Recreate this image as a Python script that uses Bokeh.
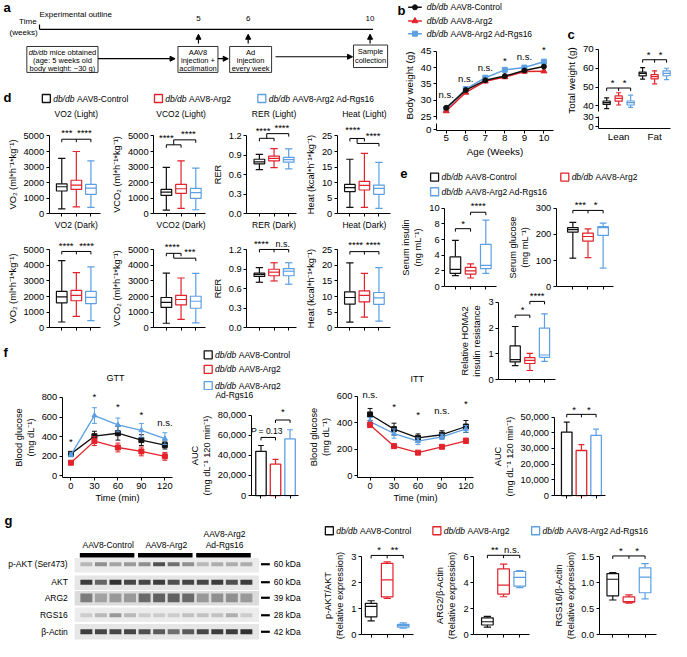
from bokeh.plotting import figure
from bokeh.layouts import row, column
from bokeh.models import (Range1d, LinearAxis, FixedTicker, NumeralTickFormatter,
                          Arrow, NormalHead, Spacer)
from bokeh.core.properties import value
from bokeh.embed import file_html
from bokeh.resources import INLINE

FONT = "Liberation Sans"
BLACK, RED, BLUE = "#111111", "#e3232b", "#5c9fe2"
COLORS = [BLACK, RED, BLUE]
S = 0.976


def R(v):
    return int(round(v * S))

# ======================= DATA =======================
strain = "db/db"
group_names = ["AAV8-Control", "AAV8-Arg2", "AAV8-Arg2 Ad-Rgs16"]

# a : experimental outline
timeline_weeks = ["5", "6", "10"]

# b : body weight
weeks = [5, 6, 7, 8, 9, 10]
bw_control = [27.7, 33.1, 36.1, 37.4, 39.1, 40.3]
bw_arg2 = [26.7, 32.4, 35.8, 37.1, 38.8, 38.9]
bw_rgs16 = [27.2, 33.4, 36.9, 39.3, 40.0, 41.8]
bw_sig = ["n.s.", "n.s.", "n.s.", "*", "n.s.", "*"]
bw_sig_y = [31.7, 36.8, 40.1, 42.1, 43.4, 45.4]

# c : body composition  (min, q1, median, q3, max)
comp_labels = ["Lean", "Fat"]
lean_boxes = [[38.6, 40.8, 41.7, 42.6, 44.3], [40.5, 42.5, 44.0, 45.3, 47.0], [39.2, 40.5, 41.7, 42.6, 45.7]]
fat_boxes = [[54.2, 55.9, 57.2, 57.9, 60.3], [51.7, 54.3, 55.5, 56.6, 58.6], [54.0, 56.0, 57.3, 58.6, 60.0]]

# d : metabolic cages
vo2_light = [[300, 1455, 1730, 1920, 3560], [440, 1560, 1835, 2150, 4000], [400, 1245, 1640, 1880, 3400]]
vco2_light = [[230, 1180, 1390, 1560, 2975], [335, 1310, 1600, 1880, 3400], [250, 980, 1350, 1630, 2930]]
rer_light = [[0.68, 0.77, 0.80, 0.84, 0.915], [0.71, 0.815, 0.855, 0.89, 1.005], [0.69, 0.795, 0.835, 0.87, 1.0]]
heat_light = [[2.0, 7.1, 8.4, 9.4, 17.5], [2.0, 7.6, 9.1, 10.4, 19.4], [1.7, 6.2, 8.1, 9.2, 16.5]]
vo2_dark = [[370, 1600, 1980, 2330, 4300], [730, 1730, 2080, 2400, 3540], [460, 1550, 1950, 2330, 3900]]
vco2_dark = [[290, 1310, 1630, 1940, 3500], [540, 1460, 1810, 2080, 3190], [310, 1250, 1700, 2020, 3480]]
rer_dark = [[0.70, 0.79, 0.82, 0.84, 0.925], [0.72, 0.80, 0.855, 0.90, 1.0], [0.67, 0.80, 0.87, 0.91, 1.0]]
heat_dark = [[1.8, 7.6, 9.7, 11.5, 20.8], [3.4, 8.3, 10.4, 11.8, 17.4], [2.1, 7.5, 9.6, 11.3, 19.3]]

# e : serum
insulin_boxes = [[1.4, 1.7, 2.2, 3.8, 5.9], [1.1, 1.6, 2.0, 2.45, 2.9], [1.7, 2.3, 2.7, 5.4, 8.5]]
glucose_boxes = [[109, 209, 218, 226, 246], [111, 174, 192, 205, 221], [71, 196, 226, 230, 243]]
homa_boxes = [[0.55, 0.69, 0.78, 1.31, 2.06], [0.36, 0.63, 0.75, 0.86, 1.02], [0.71, 0.87, 0.96, 2.0, 2.55]]

# f : GTT / ITT
time_min = [0, 30, 60, 90, 120]
gtt_control = [225, 405, 435, 365, 315]
gtt_control_err = [15, 50, 70, 55, 40]
gtt_arg2 = [135, 355, 290, 250, 200]
gtt_arg2_err = [15, 45, 45, 45, 40]
gtt_rgs16 = [215, 615, 520, 465, 380]
gtt_rgs16_err = [20, 80, 70, 70, 60]
gtt_sig = ["*", "*", "*", "*", "n.s."]
gtt_sig_y = [350, 810, 710, 630, 545]
auc_gtt = [44000, 31200, 56300]
auc_gtt_err = [5800, 4900, 9100]
itt_control = [464, 353, 287, 311, 373]
itt_control_err = [45, 45, 30, 30, 45]
itt_arg2 = [385, 225, 176, 220, 265]
itt_arg2_err = [20, 15, 10, 10, 20]
itt_rgs16 = [410, 320, 262, 295, 355]
itt_rgs16_err = [30, 35, 25, 20, 25]
itt_sig = ["n.s.", "*", "*", "n.s.", "*"]
itt_sig_y = [612, 521, 464, 496, 546]
auc_itt = [40400, 28700, 38300]
auc_itt_err = [6300, 3800, 4000]

# g : western blot and quantification
blot_rows = ["p-AKT (Ser473)", "AKT", "ARG2", "RGS16", "\u03b2-Actin"]
blot_kda = ["60 kDa", "60 kDa", "39 kDa", "28 kDa", "42 kDa"]
blot_lanes = list(range(1, 13))
blot_groups = ["AAV8-Control", "AAV8-Arg2", "AAV8-Arg2|Ad-Rgs16"]
band_pakt = [0.25, 0.45, 0.35, 0.4, 0.45, 0.75, 0.6, 0.45, 0.25, 0.3, 0.3, 0.3]
band_akt = [0.85, 0.65, 0.9, 0.8, 0.8, 0.85, 0.75, 0.8, 0.8, 0.85, 0.75, 0.85]
band_arg2 = [0.5, 0.3, 0.35, 0.35, 0.6, 0.65, 0.65, 0.6, 0.35, 0.4, 0.4, 0.35]
band_rgs16 = [0.15, 0.25, 0.4, 0.25, 0.15, 0.15, 0.15, 0.2, 0.2, 0.2, 0.3, 0.15]
band_actin = [0.85, 0.8, 0.8, 0.8, 0.75, 0.7, 0.6, 0.7, 0.8, 0.85, 0.85, 0.9]
pakt_boxes = [[0.53, 0.69, 1.09, 1.21, 1.31], [1.40, 1.46, 2.12, 2.75, 2.81], [0.25, 0.29, 0.35, 0.40, 0.46]]
arg2_boxes = [[0.58, 0.75, 1.0, 1.3, 1.42], [2.93, 3.13, 3.83, 5.08, 5.45], [3.63, 3.75, 4.43, 4.88, 4.95]]
rgs16_boxes = [[0.67, 0.75, 1.07, 1.18, 1.2], [0.61, 0.63, 0.64, 0.73, 0.77], [0.69, 0.81, 1.11, 1.29, 1.37]]

# ======================= HELPERS =======================

def canvas(x0, x1, y0, y1, xmap=None, ymap=None):
    if xmap is None:
        def fx(q):
            return q
    else:
        (ua, qa), (ub, qb) = xmap
        kx = (ub - ua) / (qb - qa)

        def fx(q, ua=ua, qa=qa, kx=kx):
            return ua + (q - qa) * kx
    if ymap is None:
        def fy(q):
            return q
    else:
        (va, pa_), (vb, pb_) = ymap
        ky = (vb - va) / (pb_ - pa_)

        def fy(q, va=va, pa_=pa_, ky=ky):
            return va + (q - pa_) * ky
    p = figure(width=R(x1) - R(x0), height=R(y1) - R(y0),
               x_range=Range1d(fx(x0), fx(x1)), y_range=Range1d(fy(y1), fy(y0)),
               x_axis_type=None, y_axis_type=None, toolbar_location=None,
               output_backend="svg", min_border=0, title=None)
    p.outline_line_color = None
    p.background_fill_color = "white"
    p.border_fill_color = "white"
    return p, fx, fy


def txt(p, xs, ys, texts, size=8.5, align="center", baseline="middle", style="normal", color="black"):
    p.text(x=list(xs), y=list(ys), text=list(texts), text_font=value(FONT),
           text_font_size=f"{size}px", text_align=align, text_baseline=baseline,
           text_font_style=style, text_color=color)


def segs(p, x0, y0, x1, y1, color="black", lw=1.0):
    p.segment(x0=list(x0), y0=list(y0), x1=list(x1), y1=list(y1), line_color=color, line_width=lw)


def style_axis(ax, fs):
    ax.axis_line_color = "black"
    ax.axis_line_width = 1
    ax.major_tick_line_color = "black"
    ax.major_tick_line_width = 1
    ax.major_tick_out = 3
    ax.major_tick_in = 0
    ax.minor_tick_line_color = None
    ax.major_label_text_font = FONT
    ax.major_label_text_font_size = f"{fs}px"
    ax.major_label_text_color = "black"
    ax.major_label_standoff = 2
    ax.axis_label_text_font = FONT
    ax.axis_label_text_font_size = f"{fs}px"
    ax.axis_label_text_font_style = "normal"
    ax.axis_label_text_color = "black"
    ax.axis_label_standoff = 3


def yaxis(p, at, lo, hi, ticks, label=None, fmt=None, overrides=None, fs=9.3):
    ax = LinearAxis(fixed_location=at, bounds=(lo, hi), ticker=FixedTicker(ticks=list(ticks)))
    style_axis(ax, fs)
    if fmt:
        ax.formatter = NumeralTickFormatter(format=fmt)
    if overrides:
        ax.major_label_overrides = overrides
    if label:
        ax.axis_label = label
    p.add_layout(ax, "left")
    return ax


def xaxis(p, at, lo, hi, ticks, label=None, overrides=None, fs=9.3, tick_out=3):
    ax = LinearAxis(fixed_location=at, bounds=(lo, hi), ticker=FixedTicker(ticks=list(ticks)))
    style_axis(ax, fs)
    ax.major_tick_out = tick_out
    if overrides:
        ax.major_label_overrides = overrides
    if label:
        ax.axis_label = label
        ax.axis_label_standoff = 1
    p.add_layout(ax, "below")
    return ax


BLANK3 = {1: "", 2: "", 3: ""}


def boxes(p, xs, stats, colors, w, capw, lw=1.2):
    lo = [s[0] for s in stats]
    q1 = [s[1] for s in stats]
    md = [s[2] for s in stats]
    q3 = [s[3] for s in stats]
    hi = [s[4] for s in stats]
    xl = [x - w / 2 for x in xs]
    xr = [x + w / 2 for x in xs]
    cl = [x - capw / 2 for x in xs]
    cr = [x + capw / 2 for x in xs]
    p.segment(x0=xs, y0=q3, x1=xs, y1=hi, line_color=colors, line_width=lw)
    p.segment(x0=xs, y0=q1, x1=xs, y1=lo, line_color=colors, line_width=lw)
    p.segment(x0=cl, y0=hi, x1=cr, y1=hi, line_color=colors, line_width=lw)
    p.segment(x0=cl, y0=lo, x1=cr, y1=lo, line_color=colors, line_width=lw)
    p.quad(left=xl, right=xr, bottom=q1, top=q3, fill_color="white", line_color=colors, line_width=lw)
    p.segment(x0=xl, y0=md, x1=xr, y1=md, line_color=colors, line_width=lw)


def dval(fy, px):
    return abs(fy(0) - fy(px))


def bracket_combined(p, fy, xs, y, drop=3):
    d = dval(fy, drop)
    segs(p, [xs[0]], [y], [xs[-1]], [y])
    segs(p, xs, [y] * len(xs), xs, [y - d] * len(xs))


def bracket_pair(p, fy, xa, xb, y, left_end=None, drop=3):
    d = dval(fy, drop)
    segs(p, [xa], [y], [xb], [y])
    segs(p, [xa, xb], [y, y], [xa, xb],
         [left_end if left_end is not None else y - d, y - d])


def bracket_nested(p, fy, yA, yB):
    bracket_pair(p, fy, 1, 2, yA)
    bracket_pair(p, fy, 1.5, 3, yB, left_end=yA)


def legend_entry(p, fx, fy, xq, yq, color, rest, fs=8.5):
    p.scatter(x=[fx(xq)], y=[fy(yq)], marker="square", size=8, fill_color="white",
              line_color=color, line_width=1.3)
    tx = xq + 7
    txt(p, [fx(tx)], [fy(yq)], [strain], size=fs, align="left", style="italic")
    txt(p, [fx(tx + 2.8 * fs / S)], [fy(yq)], [rest], size=fs, align="left")


def errbars(p, fx, xs, ys, errs, color, cap_px=2.5, both=True, lw=1.0):
    half = abs(fx(cap_px) - fx(0))
    hi = [y + e for y, e in zip(ys, errs)]
    lo = [y - e for y, e in zip(ys, errs)] if both else list(ys)
    segs(p, xs, lo, xs, hi, color, lw)
    segs(p, [x - half for x in xs], hi, [x + half for x in xs], hi, color, lw)
    if both:
        segs(p, [x - half for x in xs], lo, [x + half for x in xs], lo, color, lw)

# ======================= PANEL a =======================
pa, fx, fy = canvas(0, 402, 0, 93)
txt(pa, [3], [7], ["a"], size=13, style="bold", align="left")
txt(pa, [40], [14.5], ["Experimental outline"], size=8, align="left")
txt(pa, [37, 38], [21.5, 33], ["Time", "(weeks)"], size=8, align="right")
segs(pa, [40, 40], [29.5, 24.5], [382, 40], [29.5, 29.5], lw=1.2)
week_px = [203, 254, 379]
txt(pa, week_px, [18] * 3, timeline_weeks, size=8)
for xw in week_px:
    pa.add_layout(Arrow(x_start=xw, y_start=44, x_end=xw, y_end=34.5, line_width=1.2,
                        end=NormalHead(size=5, fill_color="black", line_color="black")))
pa.quad(left=[27, 182, 235, 362], right=[100, 223, 278, 397], top=[47, 47, 47, 45.5],
        bottom=[73.5, 73.5, 73.5, 68.5], fill_color="white", line_color="#333333", line_width=1)
txt(pa, [28.9], [52.7], [strain], size=7.5, align="left", style="italic")
txt(pa, [50.3], [52.7], ["mice obtained"], size=7.5, align="left")
txt(pa, [63.5, 63.5], [61, 69.3], ["(age: 5 weeks old", "body weight: ~30 g)"], size=7.5)
txt(pa, [202.5] * 3, [52.7, 61, 69.3], ["AAV8", "injection +", "acclimation"], size=7.5)
txt(pa, [256.5] * 3, [52.7, 61, 69.3], ["Ad", "injection", "every week"], size=7.5)
txt(pa, [379.5] * 2, [52.2, 61.7], ["Sample", "collection"], size=7.5)
for (xs_, xe_, yy) in [(100, 179, 59.5), (223, 233.5, 59.5), (282, 361, 57.5)]:
    pa.add_layout(Arrow(x_start=xs_, y_start=yy, x_end=xe_, y_end=yy, line_width=1.2,
                        end=NormalHead(size=5, fill_color="black", line_color="black")))

# ======================= PANEL d =======================
dleg, fx, fy = canvas(0, 402, 93, 108)
txt(dleg, [3], [99], ["d"], size=13, style="bold", align="left")
for xq, c, name in zip([47, 162, 268], COLORS, group_names):
    legend_entry(dleg, fx, fy, xq, 100.5, c, name)

d_cols = [(0, 108, 50, 103), (108, 215, 157, 210), (215, 305, 252, 303), (305, 402, 345, 400)]
d_rows = {"Light": (108, 225, 139, 218, 117), "Dark": (225, 345, 255, 335, 230)}
d_measures = [
    ("VO2", 5000, [0, 1000, 2000, 3000, 4000, 5000], "VO\u2082 (ml*h\u207b\u00b9*kg\u207b\u00b9)", None),
    ("VCO2", 5000, [0, 1000, 2000, 3000, 4000, 5000], "VCO\u2082 (ml*h\u207b\u00b9*kg\u207b\u00b9)", None),
    ("RER", 1.2, [0, 0.3, 0.6, 0.9, 1.2], "RER", "0.0"),
    ("Heat", 25, [0, 5, 10, 15, 20, 25], "Heat (kcal*h\u207b\u00b9*kg\u207b\u00b9)", None),
]
d_data = {
    ("VO2", "Light"): vo2_light, ("VCO2", "Light"): vco2_light,
    ("RER", "Light"): rer_light, ("Heat", "Light"): heat_light,
    ("VO2", "Dark"): vo2_dark, ("VCO2", "Dark"): vco2_dark,
    ("RER", "Dark"): rer_dark, ("Heat", "Dark"): heat_dark,
}
d_sig = {
    ("VO2", "Light"): ("combined", [4790], ["***", "****"], [1.35, 2.55], [5250, 5250]),
    ("VCO2", "Light"): ("nested", [4430, 4750], ["****", "****"], [1.0, 2.5], [4890, 5170]),
    ("RER", "Light"): ("nested", [1.164, 1.236], ["****", "****"], [1.25, 2.53], [1.286, 1.337]),
    ("Heat", "Light"): ("nested", [24.2, 22.6], ["****", "****"], [1.2, 2.6], [27.0, 25.2]),
    ("VO2", "Dark"): ("combined", [4890], ["****", "****"], [1.3, 2.7], [5270, 5270]),
    ("VCO2", "Dark"): ("nested", [4770, 4460], ["****", "***"], [1.4, 2.6], [5230, 4870]),
    ("RER", "Dark"): ("combined", [1.2045], ["****", "n.s."], [1.13, 2.6], [1.29, 1.29]),
    ("Heat", "Dark"): ("combined", [24.4], ["****", "****"], [1.4, 2.6], [26.6, 26.6]),
}
d_figs = {"Light": [], "Dark": []}
for cond in ["Light", "Dark"]:
    y0, y1, ptop, pzero, ptitle = d_rows[cond]
    for (x0, x1, axx, right), (name, ymax, ticks, ylab, fmt) in zip(d_cols, d_measures):
        p, fx, fy = canvas(x0, x1, y0, y1, xmap=((1, axx + 13), (3, axx + 43)),
                           ymap=((ymax, ptop), (0, pzero)))
        yaxis(p, fx(axx), 0, ymax, ticks, label=ylab, fmt=fmt)
        xaxis(p, 0, fx(axx), fx(right), [1, 2, 3], overrides=BLANK3)
        txt(p, [2], [fy(ptitle)], [f"{name} ({cond})"], size=8.5)
        boxes(p, [1, 2, 3], d_data[(name, cond)], COLORS, 0.73, 0.5)
        kind, levels, labs, lxs, lys = d_sig[(name, cond)]
        if kind == "combined":
            bracket_combined(p, fy, [1, 2, 3], levels[0])
        else:
            bracket_nested(p, fy, levels[0], levels[1])
        for lab, lx, ly in zip(labs, lxs, lys):
            txt(p, [lx], [ly], [lab], size=9 if lab == "n.s." else 9.5)
        d_figs[cond].append(p)

# ======================= PANEL f header =======================
fhead, fx, fy = canvas(0, 402, 345, 400)
txt(fhead, [3], [361], ["f"], size=13, style="bold", align="left")
txt(fhead, [118], [387], ["GTT"], size=9)
legend_entry(fhead, fx, fy, 213, 363, BLACK, group_names[0])
legend_entry(fhead, fx, fy, 213, 378, RED, group_names[1])
legend_entry(fhead, fx, fy, 213, 395, BLUE, "AAV8-Arg2")

# ======================= PANEL b =======================
bleg, fx, fy = canvas(402, 575, 0, 40)
txt(bleg, [407], [10], ["b"], size=13, style="bold", align="left")
for yy, c, m, sz, name in zip([7, 21, 34], COLORS, ["circle", "triangle", "square"], [5, 6, 5], group_names):
    segs(bleg, [418], [yy], [432], [yy], c, 1.5)
    bleg.scatter([425], [yy], marker=m, size=sz, fill_color=c, line_color=c)
    txt(bleg, [437], [yy], [strain], size=8.5, align="left", style="italic")
    txt(bleg, [437 + 2.8 * 8.5 / S], [yy], [name], size=8.5, align="left")

bplot, fx, fy = canvas(402, 575, 40, 165, xmap=((5, 457), (10, 557)), ymap=((45, 52), (25, 119)))
bx = fx(447)
bbase = fy(133)
yaxis(bplot, bx, 24, 45, [25, 30, 35, 40, 45], label="Body weight (g)", fs=9.8)
yaxis(bplot, bx, bbase, 22.8, [21], overrides={21: "0"}, fs=9.8)
xaxis(bplot, bbase, bx, fx(567), weeks, label="Age (Weeks)", fs=9.8)
for ys, c, m, sz in [(bw_rgs16, BLUE, "square", 5), (bw_arg2, RED, "triangle", 6), (bw_control, BLACK, "circle", 5)]:
    bplot.line(weeks, ys, line_color=c, line_width=1.5)
    bplot.scatter(weeks, ys, marker=m, size=sz, fill_color=c, line_color=c)
txt(bplot, weeks, bw_sig_y, bw_sig, size=9.5)

# ======================= PANEL c =======================
chead, fx, fy = canvas(575, 687, 0, 45)
txt(chead, [581], [35], ["c"], size=13, style="bold", align="left")
cplot, fx, fy = canvas(575, 687, 45, 165, xmap=((1, 621), (6, 682)), ymap=((70, 50), (40, 108)))
cx = fx(613)
cbase = fy(131.5)
yaxis(cplot, cx, 37, 70, [40, 50, 60, 70], label="Total weight (g)", fs=9.8)
yaxis(cplot, cx, cbase, 34.6, [29, 34], overrides={29: "0", 34: "30"}, fs=9.8)
xaxis(cplot, cbase, cx, fx(686), [2, 5], overrides={2: comp_labels[0], 5: comp_labels[1]}, fs=9.8, tick_out=0)
boxes(cplot, [1, 2, 3], lean_boxes, COLORS, 0.6, 0.42)
boxes(cplot, [4, 5, 6], fat_boxes, COLORS, 0.6, 0.42)
bracket_combined(cplot, fy, [1, 2, 3], 49.5)
txt(cplot, [1.5, 2.5], [52.5, 52.5], ["*", "*"], size=9.5)
bracket_combined(cplot, fy, [4, 5, 6], 64.5)
txt(cplot, [4.5, 5.5], [67.5, 67.5], ["*", "*"], size=9.5)

# ======================= PANEL e =======================
eleg, fx, fy = canvas(402, 687, 165, 205)
txt(eleg, [410], [177], ["e"], size=13, style="bold", align="left")
legend_entry(eleg, fx, fy, 445, 181, BLACK, group_names[0])
legend_entry(eleg, fx, fy, 578, 181, RED, group_names[1])
legend_entry(eleg, fx, fy, 445, 196, BLUE, group_names[2])

eins, fx, fy = canvas(402, 515, 205, 298, xmap=((1, 466), (3, 497)), ymap=((10, 213), (0, 293)))
yaxis(eins, fx(455), 0, 10, [0, 2, 4, 6, 8, 10], label="Serum insulin\n(ng mL\u207b\u00b9)")
xaxis(eins, 0, fx(455), fx(508), [1, 2, 3], overrides=BLANK3)
boxes(eins, [1, 2, 3], insulin_boxes, COLORS, 0.7, 0.45)
bracket_pair(eins, fy, 1, 2, 7.4)
txt(eins, [1.5], [8.1], ["*"], size=9.5)
bracket_pair(eins, fy, 2, 3, 9.5)
txt(eins, [2.5], [10.35], ["****"], size=9.5)

eglu, fx, fy = canvas(515, 687, 205, 298, xmap=((1, 586), (3, 617)), ymap=((300, 213), (0, 293)))
yaxis(eglu, fx(569), 0, 300, [0, 100, 200, 300], label="Serum glucose\n(mg mL\u207b\u00b9)")
xaxis(eglu, 0, fx(569), fx(628), [1, 2, 3], overrides=BLANK3)
boxes(eglu, [1, 2, 3], glucose_boxes, COLORS, 0.7, 0.45)
bracket_combined(eglu, fy, [1, 2, 3], 292)
txt(eglu, [1.5, 2.5], [315, 315], ["***", "*"], size=9.5)

ittT, fx, fy = canvas(402, 470, 298, 400)
txt(ittT, [427], [388], ["ITT"], size=9)

ehoma, fx, fy = canvas(470, 600, 298, 400, xmap=((1, 527), (3, 557)), ymap=((3, 309), (0, 389)))
yaxis(ehoma, fx(510), 0, 3, [0, 1, 2, 3], label="Relative HOMA2\ninsulin resistance")
xaxis(ehoma, 0, fx(510), fx(568), [1, 2, 3], overrides=BLANK3)
boxes(ehoma, [1, 2, 3], homa_boxes, COLORS, 0.7, 0.45)
bracket_pair(ehoma, fy, 1, 2, 2.5)
txt(ehoma, [1.5], [2.72], ["*"], size=9.5)
bracket_pair(ehoma, fy, 2, 3, 3.03)
txt(ehoma, [2.5], [3.24], ["****"], size=9.5)

espacer = Spacer(width=R(687) - R(600), height=R(400) - R(298))

# ======================= PANEL f plots =======================
gtt, fx, fy = canvas(0, 185, 400, 515, xmap=((0, 72), (120, 168)), ymap=((800, 407), (0, 487)))
gx = fx(63)
gb = fy(489)
yaxis(gtt, gx, gb, 800, [0, 200, 400, 600, 800], label="Blood glucose\n(mg dL\u207b\u00b9)")
xaxis(gtt, gb, gx, fx(176), time_min, label="Time (min)")
for ys, es, c, m in [(gtt_control, gtt_control_err, BLACK, "square"), (gtt_arg2, gtt_arg2_err, RED, "square"),
                     (gtt_rgs16, gtt_rgs16_err, BLUE, "triangle")]:
    errbars(gtt, fx, time_min, ys, es, c)
    gtt.line(time_min, ys, line_color=c, line_width=1.3)
    gtt.scatter(time_min, ys, marker=m, size=5, fill_color=c, line_color=c)
txt(gtt, time_min, gtt_sig_y, gtt_sig, size=9.5)

aucg, fx, fy = canvas(185, 315, 400, 515, xmap=((1, 267), (3, 297)), ymap=((80000, 425), (0, 507)))
ax_ = fx(257)
yaxis(aucg, ax_, 0, 80000, [0, 20000, 40000, 60000, 80000], label="AUC\n(mg dL\u207b\u00b9 120 min\u207b\u00b9)", fmt="0,0")
xaxis(aucg, 0, ax_, fx(306), [1, 2, 3], overrides=BLANK3)
errbars(aucg, fx, [1, 2, 3], auc_gtt, auc_gtt_err, COLORS, cap_px=3, both=False, lw=1.2)
aucg.vbar(x=[1, 2, 3], top=auc_gtt, bottom=0, width=0.72, fill_color="white", line_color=COLORS, line_width=1.3)
bracket_pair(aucg, fy, 1, 2, 57800)
txt(aucg, [fx(256.5)], [64000], ["P"], size=8.5, align="left", style="italic")
txt(aucg, [fx(264.5)], [64000], ["= 0.13"], size=8.5, align="left")
bracket_pair(aucg, fy, 2, 3, 75100)
txt(aucg, [2.5], [84000], ["*"], size=9.5)
txt(aucg, [fx(220)], [fy(405)], ["Ad-Rgs16"], size=8.5, align="left")

itt, fx, fy = canvas(315, 495, 400, 515, xmap=((0, 379), (120, 477)), ymap=((600, 406), (0, 487)))
ix = fx(366)
ib = fy(489)
yaxis(itt, ix, ib, 600, [0, 200, 400, 600], label="Blood glucose\n(mg dL\u207b\u00b9)")
xaxis(itt, ib, ix, fx(485), time_min, label="Time (min)")
for ys, es, c, m in [(itt_control, itt_control_err, BLACK, "square"), (itt_rgs16, itt_rgs16_err, BLUE, "triangle"),
                     (itt_arg2, itt_arg2_err, RED, "square")]:
    errbars(itt, fx, time_min, ys, es, c)
    itt.line(time_min, ys, line_color=c, line_width=1.3)
    itt.scatter(time_min, ys, marker=m, size=5, fill_color=c, line_color=c)
txt(itt, time_min, itt_sig_y, itt_sig, size=9.5)

auci, fx, fy = canvas(495, 687, 400, 515, xmap=((1, 580), (3, 610)), ymap=((50000, 427), (0, 507)))
ax_ = fx(567)
yaxis(auci, ax_, 0, 50000, [0, 10000, 20000, 30000, 40000, 50000], label="AUC\n(mg dL\u207b\u00b9 120 min\u207b\u00b9)", fmt="0,0")
xaxis(auci, 0, ax_, fx(620), [1, 2, 3], overrides=BLANK3)
errbars(auci, fx, [1, 2, 3], auc_itt, auc_itt_err, COLORS, cap_px=3, both=False, lw=1.2)
auci.vbar(x=[1, 2, 3], top=auc_itt, bottom=0, width=0.72, fill_color="white", line_color=COLORS, line_width=1.3)
bracket_combined(auci, fy, [1, 2, 3], 51700)
txt(auci, [1.5, 2.5], [54800, 54800], ["*", "*"], size=9.5)

# ======================= PANEL g =======================
blot, fx, fy = canvas(0, 330, 515, 657, xmap=((1, 88), (12, 252)))
txt(blot, [fx(4)], [533], ["g"], size=13, style="bold", align="left")
group_lanes = [blot_lanes[0:4], blot_lanes[4:8], blot_lanes[8:12]]
for lanes, gname in zip(group_lanes, blot_groups):
    cx_ = (lanes[0] + lanes[-1]) / 2
    parts = gname.split("|")
    if len(parts) == 1:
        txt(blot, [cx_], [558], parts, size=8.5)
    else:
        txt(blot, [cx_, cx_], [546, 558], parts, size=8.5)
    blot.quad(left=[lanes[0] - 0.45], right=[lanes[-1] + 0.3], top=[566], bottom=[570.5],
              fill_color="black", line_color=None)
strip_tb = [(571, 586), (589, 604), (605, 620), (622, 637), (639, 655)]
band_y = [577.5, 596, 612, 630, 647]
band_h = [4, 5, 9, 4, 5]
band_sets = [band_pakt, band_akt, band_arg2, band_rgs16, band_actin]
strip_col = ["#ebebeb", "#e6e6e6", "#dcdcdc", "#ececec", "#e6e6e6"]
for (t, b), yc, h, inten, lab, kda, sc in zip(strip_tb, band_y, band_h, band_sets, blot_rows, blot_kda, strip_col):
    blot.quad(left=[fx(76)], right=[fx(265)], top=[t], bottom=[b], fill_color=sc, line_color=None)
    blot.rect(x=blot_lanes, y=[yc] * 12, width=0.82, height=h, fill_color="#1e1e1e",
              fill_alpha=inten, line_color=None)
    txt(blot, [fx(69)], [yc], [lab], size=8.5, align="right")
    segs(blot, [fx(267)], [yc], [fx(276)], [yc], "black", 2.2)
    txt(blot, [fx(280)], [yc], [kda], size=8.5, align="left")

gleg, fx, fy = canvas(330, 687, 515, 552)
legend_entry(gleg, fx, fy, 337, 543, BLACK, group_names[0])
legend_entry(gleg, fx, fy, 447, 543, RED, group_names[1])
legend_entry(gleg, fx, fy, 548, 543, BLUE, group_names[2])

pakt, fx, fy = canvas(330, 440, 552, 657, xmap=((1, 380), (3, 413)), ymap=((3, 570), (0, 650)))
yaxis(pakt, fx(370), 0, 3, [0, 1, 2, 3], label="p-AKT/AKT\n(Relative expression)")
xaxis(pakt, 0, fx(370), fx(424), [1, 2, 3], overrides=BLANK3)
boxes(pakt, [1, 2, 3], pakt_boxes, COLORS, 0.72, 0.45)
bracket_combined(pakt, fy, [1, 2, 3], 3.06)
txt(pakt, [1.5, 2.45], [3.27, 3.27], ["*", "**"], size=9.5)

parg2, fx, fy = canvas(440, 546, 552, 657, xmap=((1, 499), (3, 532)), ymap=((6, 570), (0, 650)))
yaxis(parg2, fx(485), 0, 6, [0, 2, 4, 6], label="ARG2/\u03b2-Actin\n(Relative expression)")
xaxis(parg2, 0, fx(485), fx(542), [1, 2, 3], overrides=BLANK3)
boxes(parg2, [1, 2, 3], arg2_boxes, COLORS, 0.72, 0.45)
bracket_combined(parg2, fy, [1, 2, 3], 6.13)
txt(parg2, [1.45, 2.5], [6.6, 6.6], ["**", "n.s."], size=9.5)

prgs, fx, fy = canvas(546, 687, 552, 657, xmap=((1, 627), (3, 660)), ymap=((1.5, 570), (0, 650)))
yaxis(prgs, fx(613), 0, 1.5, [0, 0.5, 1.0, 1.5], label="RGS16/\u03b2-Actin\n(Relative expression)", fmt="0.0")
xaxis(prgs, 0, fx(613), fx(672), [1, 2, 3], overrides=BLANK3)
boxes(prgs, [1, 2, 3], rgs16_boxes, COLORS, 0.72, 0.45)
bracket_combined(prgs, fy, [1, 2, 3], 1.52)
txt(prgs, [1.5, 2.5], [1.63, 1.63], ["*", "*"], size=9.5)

# ======================= LAYOUT =======================
left_col = column(pa, dleg, row(*d_figs["Light"]), row(*d_figs["Dark"]), fhead)
right_col = column(row(column(bleg, bplot), column(chead, cplot)), eleg,
                   row(eins, eglu), row(ittT, ehoma, espacer))
top = row(left_col, right_col)
frow = row(gtt, aucg, itt, auci)
grow = row(blot, column(gleg, row(pakt, parg2, prgs)))
layout = column(top, frow, grow)

open("out.html", "w").write(file_html(layout, INLINE))
